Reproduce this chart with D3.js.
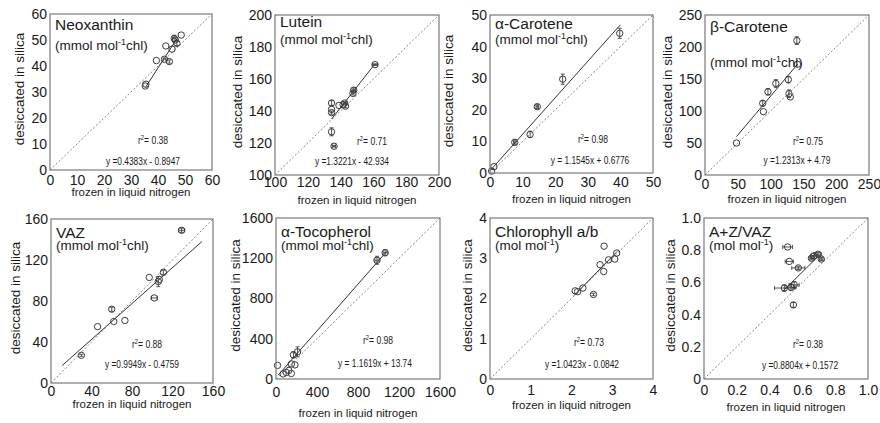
<!DOCTYPE html>
<html>
<head>
<meta charset="utf-8">
<script src="https://cdn.jsdelivr.net/npm/d3@7"></script>
<style>
  body { margin: 0; background: #fff; }
  svg { display: block; font-family: "Liberation Sans", Arial, sans-serif; }
</style>
</head>
<body>
<svg id="chart" width="880" height="423"></svg>
<script>
// ---- data ----
const names = ["Neoxanthin", "Lutein", "α-Carotene", "β-Carotene", "VAZ", "α-Tocopherol", "Chlorophyll a/b", "A+Z/VAZ"];
const units = ["mmol", "mmol", "mmol", "mmol", "mmol", "mmol", "mol", "mol"];
const r2Labels = ["0.38", "0.71", "0.98", "0.75", "0.88", "0.98", "0.73", "0.38"];
const eqLabels = ["y =0.4383x - 0.8947", "y =1.3221x - 42.934", "y = 1.1545x + 0.6776", "y =1.2313x + 4.79",
                  "y =0.9949x - 0.4759", "y = 1.1619x + 13.74", "y =1.0423x - 0.0842", "y =0.8804x + 0.1572"];

const neoTicks = [0, 10, 20, 30, 40, 50, 60];
const lutTicks = [100, 120, 140, 160, 180, 200];
const acaTicks = [0, 10, 20, 30, 40, 50];
const bcaTicks = [0, 50, 100, 150, 200, 250];
const vazTicks = [0, 40, 80, 120, 160];
const tocTicks = [0, 400, 800, 1200, 1600];
const chlTicks = [0, 1, 2, 3, 4];
const azTicks = [0, 0.2, 0.4, 0.6, 0.8, 1.0];

const neoX = [35.3, 35.5, 39.4, 42.4, 42.9, 44.2, 45.2, 46.0, 46.4, 47.0, 48.6];
const neoY = [32.3, 33.0, 42.1, 42.6, 47.7, 41.7, 46.5, 50.6, 50.0, 48.7, 51.9];
const neoXerr = [0, 0, 0, 0.5, 0, 0, 0, 0.6, 0, 0, 0];
const neoYerr = [0, 0, 0, 0, 0, 0.6, 0, 1.2, 0, 0.8, 0];
const neoFit = [[35.5, 32], [47, 50.5]];

const lutX = [134.5, 134.5, 134.5, 134.5, 136, 139, 141.5, 142.5, 143, 147.5, 148, 161];
const lutY = [145, 141, 139, 127, 118, 143.5, 144, 145, 143, 151, 153, 169];
const lutXerr = [0, 0, 0, 0, 1, 0, 0, 1, 0, 0, 1, 1.5];
const lutYerr = [1.5, 0, 1, 2.5, 0.5, 0, 0, 0, 1, 1, 1.5, 0.5];
const lutFit = [[134.5, 135], [161, 169.5]];

const acaX = [0.5, 1.2, 7.6, 12.3, 14.5, 22.3, 39.8];
const acaY = [0.6, 2.0, 9.7, 12.2, 21, 29.7, 44.2];
const acaXerr = [0, 0, 0.4, 0, 0.4, 0, 0];
const acaYerr = [0, 0, 0.8, 1.0, 0.6, 1.6, 1.6];
const acaFit = [[0, 0.7], [40, 46.9]];

const bcaX = [48, 88, 89, 96, 108, 127, 128, 130, 141, 140];
const bcaY = [50, 112, 99, 130, 143, 149, 127, 122, 173, 210];
const bcaXerr = [0, 0, 0, 0, 0, 0, 0, 0, 0, 0];
const bcaYerr = [0, 4, 0, 5, 6, 5, 6, 0, 0, 6];
const bcaFit = [[48, 60], [141, 173]];

const vazX = [30, 46, 60, 62, 73, 97, 102, 106, 107, 111, 129];
const vazY = [27, 55, 72, 60, 61, 103, 83, 99, 101, 108, 149];
const vazXerr = [0, 0, 0, 0, 0, 0, 3, 0, 0, 0, 3];
const vazYerr = [1, 0, 2, 0, 0, 0, 0, 5, 0, 2, 2];
const vazFit = [[11, 17], [149, 138]];

const tocX = [15, 70, 100, 125, 150, 150, 170, 185, 210, 985, 1065];
const tocY = [135, 50, 65, 85, 150, 55, 240, 140, 270, 1180, 1255];
const tocXerr = [0, 0, 0, 0, 0, 0, 0, 0, 0, 20, 20];
const tocYerr = [0, 0, 0, 0, 0, 0, 30, 0, 50, 40, 30];
const tocFit = [[20, 37], [1080, 1268]];

const chlX = [2.09, 2.15, 2.28, 2.54, 2.70, 2.79, 2.80, 2.91, 3.06, 3.11];
const chlY = [2.19, 2.17, 2.26, 2.10, 2.84, 2.67, 3.30, 2.96, 2.98, 3.13];
const chlXerr = [0, 0, 0, 0, 0, 0, 0, 0, 0, 0];
const chlYerr = [0, 0, 0, 0.03, 0, 0, 0, 0, 0, 0];
const chlFit = [[2.06, 2.07], [3.12, 3.17]];

const azX = [0.49, 0.51, 0.52, 0.53, 0.55, 0.545, 0.575, 0.655, 0.67, 0.695, 0.715];
const azY = [0.565, 0.82, 0.73, 0.57, 0.585, 0.46, 0.69, 0.75, 0.765, 0.775, 0.745];
const azXerr = [0.06, 0.03, 0.025, 0.03, 0.03, 0, 0.04, 0.01, 0.02, 0.02, 0.01];
const azYerr = [0.02, 0, 0, 0.02, 0.02, 0.015, 0.01, 0.01, 0.015, 0.01, 0.01];
const azFit = [[0.48, 0.545], [0.705, 0.77]];

// ---- layout of the 8 frames (pixels) ----
const frames = [
  { x0: 50, x1: 212, y0: 14, y1: 170, t: 16, u: 36, ry: 26, ey: 5, rx: 59, ex: 69, yt: 31, xl: 16, xt: 26 },
  { x0: 275, x1: 439, y0: 15, y1: 175, t: 12, u: 29, ry: 30, ey: 10, rx: 67, ex: 87, yt: 38, xl: 13, xt: 29 },
  { x0: 490, x1: 653, y0: 15, y1: 173, t: 14, u: 29, ry: 30, ey: 9, rx: 60, ex: 63, yt: 42, xl: 15, xt: 30 },
  { x0: 705, x1: 869, y0: 15, y1: 175, t: 17, u: 52, ry: 30, ey: 11, rx: 61, ex: 72, yt: 38, xl: 15, xt: 28 },
  { x0: 51, x1: 213, y0: 219, y1: 383, t: 19, u: 31, ry: 35, ey: 15, rx: 66, ex: 71, yt: 36, xl: 14, xt: 25 },
  { x0: 276, x1: 440, y0: 218, y1: 379, t: 19, u: 32, ry: 35, ey: 12, rx: 62, ex: 65, yt: 41, xl: 19, xt: 38 },
  { x0: 490, x1: 653, y0: 218, y1: 379, t: 19, u: 32, ry: 33, ey: 11, rx: 64, ex: 71, yt: 23, xl: 17, xt: 30 },
  { x0: 704, x1: 868, y0: 218, y1: 379, t: 19, u: 32, ry: 31, ey: 10, rx: 60, ex: 68, yt: 34, xl: 17, xt: 32 }
];

const tickSets = [neoTicks, lutTicks, acaTicks, bcaTicks, vazTicks, tocTicks, chlTicks, azTicks];
const xsAll = [neoX, lutX, acaX, bcaX, vazX, tocX, chlX, azX];
const ysAll = [neoY, lutY, acaY, bcaY, vazY, tocY, chlY, azY];
const xeAll = [neoXerr, lutXerr, acaXerr, bcaXerr, vazXerr, tocXerr, chlXerr, azXerr];
const yeAll = [neoYerr, lutYerr, acaYerr, bcaYerr, vazYerr, tocYerr, chlYerr, azYerr];
const fits = [neoFit, lutFit, acaFit, bcaFit, vazFit, tocFit, chlFit, azFit];

const svg = d3.select('#chart');
const ink = '#1a1a1a';

frames.forEach((f, i) => {
  const ticks = tickSets[i];
  const dom = [ticks[0], ticks[ticks.length - 1]];
  const x = d3.scaleLinear().domain(dom).range([f.x0, f.x1]);
  const y = d3.scaleLinear().domain(dom).range([f.y1, f.y0]);
  const fmt = i === 7 ? (d => d === 0 ? '0' : d3.format('.1f')(d)) : d3.format('d');
  const g = svg.append('g').attr('class', 'panel');

  // 1:1 line
  g.append('line')
    .attr('x1', x(dom[0])).attr('y1', y(dom[0]))
    .attr('x2', x(dom[1])).attr('y2', y(dom[1]))
    .attr('stroke', '#666').attr('stroke-width', 0.8).attr('stroke-dasharray', '2,2');

  // regression line
  const fit = fits[i];
  g.append('line')
    .attr('x1', x(fit[0][0])).attr('y1', y(fit[0][1]))
    .attr('x2', x(fit[1][0])).attr('y2', y(fit[1][1]))
    .attr('stroke', '#333').attr('stroke-width', 1);

  // error bars
  const pts = xsAll[i].map((v, k) => ({ x: v, y: ysAll[i][k], ex: xeAll[i][k], ey: yeAll[i][k] }));
  const eb = g.append('g').attr('stroke', '#444').attr('stroke-width', 0.9);
  pts.filter(p => p.ey > 0).forEach(p => {
    eb.append('line').attr('x1', x(p.x)).attr('x2', x(p.x)).attr('y1', y(p.y - p.ey)).attr('y2', y(p.y + p.ey));
    [p.y - p.ey, p.y + p.ey].forEach(v => eb.append('line')
      .attr('x1', x(p.x) - 2).attr('x2', x(p.x) + 2).attr('y1', y(v)).attr('y2', y(v)));
  });
  pts.filter(p => p.ex > 0).forEach(p => {
    eb.append('line').attr('y1', y(p.y)).attr('y2', y(p.y)).attr('x1', x(p.x - p.ex)).attr('x2', x(p.x + p.ex));
    [p.x - p.ex, p.x + p.ex].forEach(v => eb.append('line')
      .attr('y1', y(p.y) - 2).attr('y2', y(p.y) + 2).attr('x1', x(v)).attr('x2', x(v)));
  });

  // points
  g.selectAll('circle.pt')
    .data(pts)
    .join('circle')
      .attr('class', 'pt')
      .attr('cx', d => x(d.x))
      .attr('cy', d => y(d.y))
      .attr('r', 3.2)
      .attr('fill', 'none')
      .attr('stroke', '#3a3a3a')
      .attr('stroke-width', 1);

  // frame
  g.append('rect')
    .attr('x', f.x0).attr('y', f.y0)
    .attr('width', f.x1 - f.x0).attr('height', f.y1 - f.y0)
    .attr('fill', 'none').attr('stroke', '#7a7a7a').attr('stroke-width', 1.2);

  // axes
  const ax = g.append('g')
    .attr('transform', `translate(0,${f.y1})`)
    .call(d3.axisBottom(x).tickValues(ticks).tickFormat(fmt).tickSize(0).tickPadding(f.xl - 11));
  const ay = g.append('g')
    .attr('transform', `translate(${f.x0},0)`)
    .call(d3.axisLeft(y).tickValues(ticks).tickFormat(fmt).tickSize(0).tickPadding(3));
  [ax, ay].forEach(a => {
    a.select('.domain').remove();
    a.selectAll('text').attr('font-size', 14).attr('fill', ink)
      .attr('font-family', '"Liberation Sans", Arial, sans-serif');
  });

  // axis titles
  g.append('text')
    .attr('x', (f.x0 + f.x1) / 2).attr('y', f.y1 + f.xt)
    .attr('text-anchor', 'middle').attr('font-size', 11.5).attr('fill', ink)
    .text('frozen in liquid nitrogen');
  g.append('text')
    .attr('transform', `translate(${f.x0 - f.yt},${(f.y0 + f.y1) / 2 - 3}) rotate(-90)`)
    .attr('dy', '0.35em')
    .attr('text-anchor', 'middle').attr('font-size', 13.5).attr('fill', ink)
    .text('desiccated in silica');

  // panel title and unit
  g.append('text')
    .attr('x', f.x0 + 5).attr('y', f.y0 + f.t)
    .attr('font-size', 15.5).attr('fill', ink)
    .text(names[i]);
  const u = g.append('text')
    .attr('x', f.x0 + 5).attr('y', f.y0 + f.u)
    .attr('font-size', 13.5).attr('fill', ink);
  u.append('tspan').text(`(${units[i]} mol`);
  u.append('tspan').attr('font-size', 9).attr('dy', -5).text('-1');
  u.append('tspan').attr('dy', 5).text(units[i] === 'mmol' ? 'chl)' : ')');

  // statistics, in a condensed face (squeezed horizontally)
  const r = g.append('g')
    .attr('transform', `translate(${f.x1 - f.rx},${f.y1 - f.ry}) scale(0.78,1)`)
    .append('text')
    .attr('text-anchor', 'middle').attr('font-size', 11).attr('fill', ink);
  r.append('tspan').text('r');
  r.append('tspan').attr('font-size', 7.5).attr('dy', -4).text('2');
  r.append('tspan').attr('dy', 4).text('= ' + r2Labels[i]);
  g.append('g')
    .attr('transform', `translate(${f.x1 - f.ex},${f.y1 - f.ey}) scale(0.76,1)`)
    .append('text')
    .attr('text-anchor', 'middle').attr('font-size', 11).attr('fill', ink)
    .text(eqLabels[i]);
});
</script>
</body>
</html>
